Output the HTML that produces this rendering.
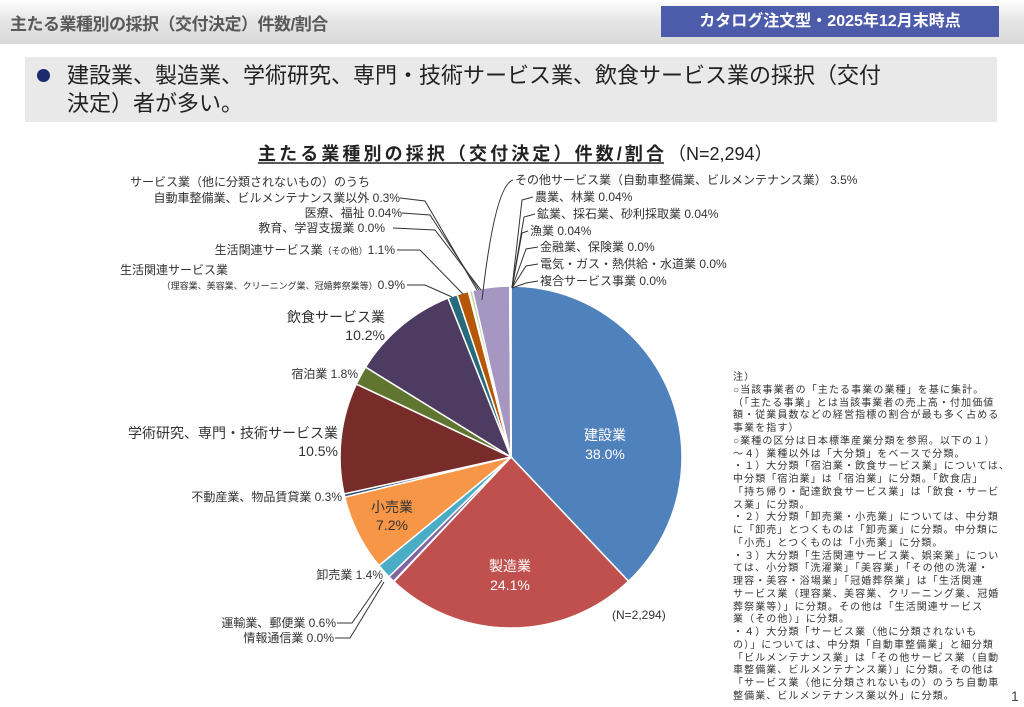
<!DOCTYPE html>
<html><head><meta charset="utf-8">
<style>
body{margin:0;width:1024px;height:707px;background:#fff;font-family:"Liberation Sans","Noto Sans CJK JP",sans-serif;position:relative;overflow:hidden}
.hdr{position:absolute;left:0;top:0;width:1024px;height:44px;background:linear-gradient(#fff,#e6e6e6 45%,#d9d9d9);}
.ht{position:absolute;left:10px;top:10px;font-size:17px;font-weight:bold;color:#595959;letter-spacing:-0.5px}
.blue{position:absolute;left:661px;top:6px;width:338px;height:31px;background:#4c5caa;color:#fff;font-weight:bold;font-size:16px;text-align:center;line-height:31px}
.bul{position:absolute;left:25px;top:57px;width:972px;height:65px;background:#e9e9e9}
.bul .t{position:absolute;left:42px;top:5px;font-size:22px;line-height:28px;color:#222;white-space:pre}
.bul .d{position:absolute;left:12px;top:12px;width:13px;height:13px;border-radius:50%;background:#1a2a6c}
.notes{position:absolute;left:733px;top:372px;font-size:10px;color:#333;letter-spacing:1.1px}
.notes div{height:12.75px;line-height:12.75px;white-space:pre;overflow:visible}
.pg{position:absolute;left:1011px;top:688px;font-size:14px;color:#444}
svg text{font-family:"Liberation Sans","Noto Sans CJK JP",sans-serif}
</style></head><body>
<div class="hdr"><div class="ht">主たる業種別の採択（交付決定）件数/割合</div></div>
<div class="blue">カタログ注文型・2025年12月末時点</div>
<div class="bul"><div class="d"></div><div class="t">建設業、製造業、学術研究、専門・技術サービス業、飲食サービス業の採択（交付
決定）者が多い。</div></div>
<svg width="1024" height="707" style="position:absolute;left:0;top:0">
<text x="258" y="160" font-size="18" font-weight="bold" fill="#222" textLength="406" lengthAdjust="spacing">主たる業種別の採択（交付決定）件数/割合</text>
<line x1="258" y1="163" x2="664" y2="163" stroke="#222" stroke-width="1.5"/>
<text x="668" y="160" font-size="18" fill="#222">（N=2,294）</text>
<g id="pie"></g>
<g font-size="12" fill="#333">
<text x="130" y="186">サービス業（他に分類されないもの）のうち</text>
<text x="400" y="202" text-anchor="end">自動車整備業、ビルメンテナンス業以外 0.3%</text>
<text x="402" y="217" text-anchor="end">医療、福祉 0.04%</text>
<text x="385" y="232" text-anchor="end">教育、学習支援業 0.0%</text>
<text x="395" y="254" text-anchor="end">生活関連サービス業<tspan font-size="9">（その他）</tspan>1.1%</text>
<text x="120" y="274">生活関連サービス業</text>
<text x="405" y="289" text-anchor="end"><tspan font-size="9">（理容業、美容業、クリーニング業、冠婚葬祭業等）</tspan>0.9%</text>
<text x="515" y="184">その他サービス業（自動車整備業、ビルメンテナンス業） 3.5%</text>
<text x="535" y="201">農業、林業 0.04%</text>
<text x="537" y="218">鉱業、採石業、砂利採取業 0.04%</text>
<text x="530" y="235">漁業 0.04%</text>
<text x="540" y="251">金融業、保険業 0.0%</text>
<text x="540" y="268">電気・ガス・熱供給・水道業 0.0%</text>
<text x="540" y="285">複合サービス事業 0.0%</text>
<text x="385" y="322" text-anchor="end" font-size="14">飲食サービス業</text>
<text x="385" y="340" text-anchor="end" font-size="14">10.2%</text>
<text x="358" y="378" text-anchor="end">宿泊業 1.8%</text>
<text x="338" y="438" text-anchor="end" font-size="14">学術研究、専門・技術サービス業</text>
<text x="338" y="456" text-anchor="end" font-size="14">10.5%</text>
<text x="342" y="501" text-anchor="end">不動産業、物品賃貸業 0.3%</text>
<text x="383" y="579" text-anchor="end">卸売業 1.4%</text>
<text x="336" y="627" text-anchor="end">運輸業、郵便業 0.6%</text>
<text x="334" y="642" text-anchor="end">情報通信業 0.0%</text>
<text x="612" y="619">(N=2,294)</text>
</g>
<g font-size="14" text-anchor="middle">
<text x="605" y="440" fill="#fff">建設業</text><text x="605" y="459" fill="#fff">38.0%</text>
<text x="510" y="571" fill="#fff">製造業</text><text x="510" y="590" fill="#fff">24.1%</text>
<text x="392" y="512" fill="#333">小売業</text><text x="392" y="530" fill="#333">7.2%</text>
</g>
<g stroke="#333" stroke-width="1" fill="none">
<polyline points="400,198 425,201 477,290"/>
<polyline points="402,213 430,215 479,290"/>
<polyline points="393,228 435,230 481,290"/>
<polyline points="397,250 420,250 463,294"/>
<polyline points="407,285 425,285 452,297"/>
<path d="M513,180 Q495,185 482,300"/>
<polyline points="533,197 522,200 512,288"/>
<polyline points="535,214 524,217 512,288"/>
<polyline points="528,231 522,233 512,288"/>
<polyline points="538,247 526,249 512,288"/>
<polyline points="538,264 526,266 512,288"/>
<polyline points="538,281 526,283 512,288"/>
<polyline points="337,623 352,623 382,580"/>
<polyline points="335,638 350,638 384,582"/>
</g>
</svg>
<div class="notes"><div>注）</div><div>○当該事業者の「主たる事業の業種」を基に集計。</div><div>（「主たる事業」とは当該事業者の売上高・付加価値</div><div>額・従業員数などの経営指標の割合が最も多く占める</div><div>事業を指す）</div><div>○業種の区分は日本標準産業分類を参照。以下の１）</div><div>～４）業種以外は「大分類」をベースで分類。</div><div>・１）大分類「宿泊業・飲食サービス業」については、</div><div>中分類「宿泊業」は「宿泊業」に分類。「飲食店」</div><div>「持ち帰り・配達飲食サービス業」は「飲食・サービ</div><div>ス業」に分類。</div><div>・２）大分類「卸売業・小売業」については、中分類</div><div>に「卸売」とつくものは「卸売業」に分類。中分類に</div><div>「小売」とつくものは「小売業」に分類。</div><div>・３）大分類「生活関連サービス業、娯楽業」につい</div><div>ては、小分類「洗濯業」「美容業」「その他の洗濯・</div><div>理容・美容・浴場業」「冠婚葬祭業」は「生活関連</div><div>サービス業（理容業、美容業、クリーニング業、冠婚</div><div>葬祭業等）」に分類。その他は「生活関連サービス</div><div>業（その他）」に分類。</div><div>・４）大分類「サービス業（他に分類されないも</div><div>の）」については、中分類「自動車整備業」と細分類</div><div>「ビルメンテナンス業」は「その他サービス業（自動</div><div>車整備業、ビルメンテナンス業）」に分類。その他は</div><div>「サービス業（他に分類されないもの）のうち自動車</div><div>整備業、ビルメンテナンス業以外」に分類。</div></div>
<div class="pg">1</div>
<script>
var d=[[38.0,"#4f81bd"],[24.1,"#c0504d"],[0.05,"#9bbb59"],[0.6,"#8064a2"],[1.4,"#4bacc6"],[7.2,"#f79646"],[0.3,"#2c4d75"],[10.5,"#772c2a"],[1.8,"#5f7530"],[10.2,"#4d3b62"],[0.9,"#276a7c"],[1.1,"#b65708"],[0.05,"#729aca"],[0.04,"#d99694"],[0.3,"#c3d69b"],[3.5,"#a596c2"],[0.04,"#93cddd"],[0.04,"#fac090"],[0.04,"#95b3d7"]];
var tot=0;d.forEach(function(e){tot+=e[0]});
var cx=511,cy=457,r=171,a=0,s="";
d.forEach(function(e){var a2=a+e[0]/tot*2*Math.PI;
var x1=cx+r*Math.sin(a),y1=cy-r*Math.cos(a),x2=cx+r*Math.sin(a2),y2=cy-r*Math.cos(a2);
s+='<path d="M'+cx+','+cy+'L'+x1+','+y1+'A'+r+','+r+' 0 '+((a2-a)>Math.PI?1:0)+' 1 '+x2+','+y2+'Z" fill="'+e[1]+'" stroke="#fff" stroke-width="1.5"/>';a=a2;});
document.getElementById("pie").innerHTML=s;
</script>
</body></html>
